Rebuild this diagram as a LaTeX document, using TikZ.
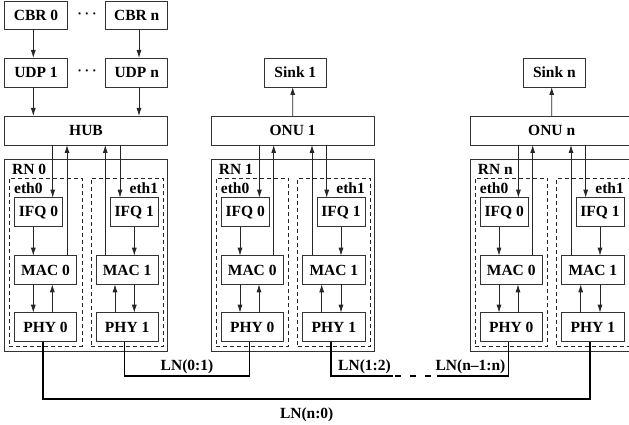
\documentclass[tikz,border=0pt]{standalone}
\usepackage{fontspec}
\setmainfont{Liberation Serif}
\usetikzlibrary{calc,arrows.meta}
\newcommand\lblfont{\fontsize{15.5}{17}\selectfont\bfseries}
\tikzset{
  box/.style={draw=black!80, line width=0.8pt, inner sep=0pt, outer sep=0pt, font=\lblfont},
  ethbox/.style={draw=black!85, line width=0.8pt, dash pattern=on 4pt off 3pt, inner sep=0pt, outer sep=0pt},
  lbl/.style={inner sep=0pt, font=\lblfont},
  dotlbl/.style={inner sep=0pt, font=\fontsize{15}{15}\selectfont\boldmath},
  arr/.style={draw=black!85, line width=0.8pt, -{Latex[length=8pt,width=5pt]}},
  link/.style={draw=black, line width=1.6pt},
}
% #1 x offset, #2 name prefix, #3 top box label, #4 RN label
\newcommand\RNblock[4]{%
\begin{scope}[shift={(#1,0)}]
  \node[box, minimum width=163.4pt, minimum height=29pt] (#2top) at (81.7,130.5) {#3};
  \node[box, minimum width=163.4pt, minimum height=192pt] (#2rn) at (81.7,255) {};
  \node[ethbox, minimum width=72.7pt, minimum height=168.5pt] (#2eth0) at (41.35,262.25) {};
  \node[ethbox, minimum width=72.3pt, minimum height=168.5pt] (#2eth1) at (122.85,262.25) {};
  \node[lbl, anchor=base west] (#2rnl) at (7.7,174) {#4};
  \node[lbl, anchor=base west] (#2e0l) at (9.7,193.3) {eth0};
  \node[lbl, anchor=base east] (#2e1l) at (154,193.3) {eth1};
  \node[box, minimum width=48.4pt, minimum height=29pt] (#2ifq0) at (34.2,212.2) {IFQ 0};
  \node[box, minimum width=48pt, minimum height=29pt] (#2ifq1) at (130,212.2) {IFQ 1};
  \node[box, minimum width=62.4pt, minimum height=28.6pt] (#2mac0) at (41.2,270) {MAC 0};
  \node[box, minimum width=62.3pt, minimum height=28.6pt] (#2mac1) at (122.85,270) {MAC 1};
  \node[box, minimum width=62.4pt, minimum height=29pt] (#2phy0) at (41.2,327.2) {PHY 0};
  \node[box, minimum width=62.3pt, minimum height=29pt] (#2phy1) at (122.85,327.2) {PHY 1};
  % eth0 arrows
  \draw[arr] ($(#2top.south)+(-33.3,0)$) -- ($(#2ifq0.north)+(14.2,0)$);
  \draw[arr] ($(#2mac0.north)+(21.5,0)$) -- ($(#2top.south)+(-19,0)$);
  \draw[arr] ($(#2ifq0.south)+(-5.2,0)$) -- ($(#2mac0.north)+(-12.2,0)$);
  \draw[arr] ($(#2mac0.south)+(-12.2,0)$) -- ($(#2phy0.north)+(-12.2,0)$);
  \draw[arr] ($(#2phy0.north)+(6.8,0)$) -- ($(#2mac0.south)+(6.8,0)$);
  % eth1 arrows
  \draw[arr] ($(#2top.south)+(34,0)$) -- ($(#2ifq1.north)+(-14.3,0)$);
  \draw[arr] ($(#2mac1.north)+(-21.85,0)$) -- ($(#2top.south)+(19.3,0)$);
  \draw[arr] ($(#2ifq1.south)+(0,0)$) -- ($(#2mac1.north)+(7.15,0)$);
  \draw[arr] ($(#2mac1.south)+(7.15,0)$) -- ($(#2phy1.north)+(7.15,0)$);
  \draw[arr] ($(#2phy1.north)+(-12.15,0)$) -- ($(#2mac1.south)+(-12.15,0)$);
  \coordinate (#2p0) at ($(#2phy0.south)+(-2.8,0)$);
  \coordinate (#2p1) at ($(#2phy1.south)+(-2.85,0)$);
\end{scope}}
\begin{document}
\begin{tikzpicture}[x=1pt,y=-1pt]
\useasboundingbox (0,0) rectangle (629,425);
\clip (0,0) rectangle (629,425);

\RNblock{4.3}{a}{HUB}{RN 0}
\RNblock{211}{b}{ONU 1}{RN 1}
\RNblock{470}{c}{ONU n}{RN n}

% sources
\node[box, minimum width=63.4pt, minimum height=28pt] (cbr0) at (36,15) {CBR 0};
\node[box, minimum width=62pt, minimum height=28pt] (cbrn) at (136.7,15) {CBR n};
\node[box, minimum width=63.4pt, minimum height=29pt] (udp1) at (36,72.5) {UDP 1};
\node[box, minimum width=62pt, minimum height=29pt] (udpn) at (136.7,72.5) {UDP n};
\node[dotlbl] (dots1) at (87,14) {$\cdots$};
\node[dotlbl] (dots2) at (87,71.3) {$\cdots$};
\draw[arr] ($(cbr0.south)+(-2.7,0)$) -- ($(udp1.north)+(-2.7,0)$);
\draw[arr] ($(cbrn.south)+(2.3,0)$) -- ($(udpn.north)+(2.3,0)$);
\draw[arr] ($(udp1.south)+(-2.7,0)$) -- ($(atop.north)+(-52.7,0)$);
\draw[arr] ($(udpn.south)+(2.3,0)$) -- ($(atop.north)+(53,0)$);

% sinks
\node[box, minimum width=62.7pt, minimum height=28.7pt] (sink1) at (295.35,72.65) {Sink 1};
\node[box, minimum width=62.7pt, minimum height=28.7pt] (sinkn) at (554.35,72.65) {Sink n};
\draw[arr] (btop.north) -- ($(sink1.south)+(-2.65,0)$);
\draw[arr] (ctop.north) -- ($(sinkn.south)+(-2.65,0)$);

% links
\coordinate (lnA) at (0,375.7);
\coordinate (lnB) at (0,399);
\coordinate (dA) at (392.7,375.7);
\coordinate (dB) at (395,375.7);
\coordinate (dC) at (432,375.7);
\coordinate (dD) at (436.7,375.7);
\draw[link] (ap1) -- (ap1 |- lnA) -- (bp0 |- lnA) -- (bp0);
\draw[link] (bp1) -- (bp1 |- lnA) -- (dA);
\draw[link, dash pattern=on 6pt off 9pt] (dB) -- (dC);
\draw[link] (dD) -- (cp0 |- lnA) -- (cp0);
\draw[link] (ap0) -- (ap0 |- lnB) -- (cp1 |- lnB) -- (cp1);

\node[lbl, anchor=base] (ln01) at (187,370.5) {LN(0:1)};
\node[lbl, anchor=base] (ln12) at (364.5,370.5) {LN(1:2)};
\node[lbl, anchor=base] (lnn1n) at (470.5,370.5) {LN(n--1:n)};
\node[lbl, anchor=base] (lnn0) at (306.7,418.3) {LN(n:0)};
\end{tikzpicture}
\end{document}
